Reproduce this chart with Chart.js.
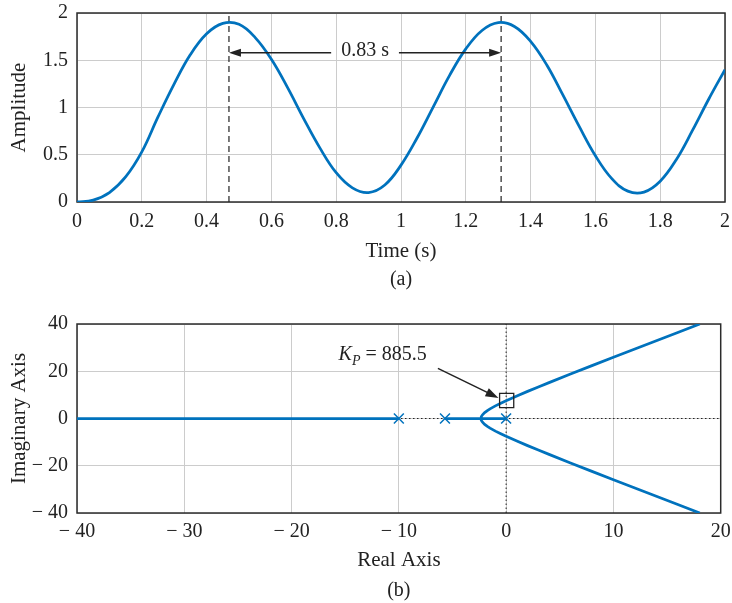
<!DOCTYPE html>
<html><head><meta charset="utf-8">
<script src="https://cdn.jsdelivr.net/npm/chart.js@4"></script>
<style>html,body{margin:0;padding:0;background:#fff;} canvas{position:absolute;left:0;display:block}</style>
</head><body>
<canvas id="c1" width="732" height="300" style="top:0"></canvas>
<canvas id="c2" width="732" height="303" style="top:300px"></canvas>
<script>
// ---------- (a) time response ----------
const timeS = [0,0.05,0.1,0.15,0.2,0.25,0.3,0.35,0.4,0.45,0.5,0.55,0.6,0.65,0.7,0.75,0.8,0.85,0.9,0.95,1.0,1.05,1.1,1.15,1.2,1.25,1.3,1.35,1.4,1.45,1.5,1.55,1.6,1.65,1.7,1.75,1.8,1.85,1.9,1.95,2.0];
const amplitude = [0,0.02,0.10,0.265,0.53,0.90,1.25,1.56,1.78,1.89,1.88,1.74,1.51,1.21,0.88,0.57,0.31,0.15,0.10,0.18,0.39,0.68,1.01,1.34,1.62,1.815,1.898,1.857,1.70,1.45,1.13,0.80,0.49,0.25,0.115,0.105,0.22,0.45,0.76,1.09,1.40];
const peakTimes = [0.469, 1.309];
const periodLabel = '0.83 s';
const periodArrowLevel = 1.58;
const timeTicks = [0,0.2,0.4,0.6,0.8,1,1.2,1.4,1.6,1.8,2];
const timeTickLabels = ['0','0.2','0.4','0.6','0.8','1','1.2','1.4','1.6','1.8','2'];
const ampTicks = [0,0.5,1,1.5,2];
const ampTickLabels = ['0','0.5','1','1.5','2'];

// ---------- (b) root locus ----------
const realAxisLeftSeg = [-40,-10];
const realAxisRightSeg = [-5.7,0];
const branchReal = [-2.34,-2.33,-2.3,-2.2,-2,-1.75,-1.5,-1,-0.5,0,1,2,3,4,6,8,10,12,14,16,18.05];
const branchUpperImag = [0,0.35,0.81,1.56,2.49,3.35,4.08,5.35,6.48,7.55,9.56,11.48,13.35,15.19,18.80,22.37,25.90,29.42,32.93,36.43,40];
const branchLowerImag = [0,-0.35,-0.81,-1.56,-2.49,-3.35,-4.08,-5.35,-6.48,-7.55,-9.56,-11.48,-13.35,-15.19,-18.80,-22.37,-25.90,-29.42,-32.93,-36.43,-40];
const polesReal = [0,-5.7,-10];
const polesImag = [0,0,0];
const kpPoint = {re:0.05, im:7.6};
const kpLabelMain = 'K';
const kpLabelSub = 'P';
const kpLabelValue = ' = 885.5';
const kpTextAnchor = {re:-15.62, im:24.7};
const kpArrowFrom = {re:-6.36, im:21.2};
const kpArrowTo = {re:-0.71, im:8.72};
const realTicks = [-40,-30,-20,-10,0,10,20];
const realTickLabels = ['\u2212 40','\u2212 30','\u2212 20','\u2212 10','0','10','20'];
const imagTicks = [-40,-20,0,20,40];
const imagTickLabels = ['\u2212 40','\u2212 20','0','20','40'];

const FONT = '"Liberation Serif", "Times New Roman", serif';
const BLUE = '#0072bd';
const INK = '#222222';
Chart.defaults.font.family = FONT;
Chart.defaults.color = INK;

function scaleCfg(min,max,ticks,labels,title,titlePad,tickPad,isY,size){
  return {
    type:'linear', min:min, max:max,
    afterBuildTicks: s => { s.ticks = ticks.map(v => ({value:v})); },
    ticks:{autoSkip:false, maxRotation:0, minRotation:0, padding:tickPad, font:{size:20}, color:INK,
      callback:(v,i) => labels[i]},
    grid:{color:'#cccccc', lineWidth:1, drawTicks:false},
    border:{display:false},
    title:{display:true, text:title, font:{size:21}, color:INK, padding:titlePad},
    afterFit: s => { if(isY) s.width = size; else s.height = size;
      s.paddingLeft = 0; s.paddingRight = 0; s.paddingTop = 0; s.paddingBottom = 0; }
  };
}

const framePlugin = {
  id:'frame',
  beforeDatasetsDraw(chart){
    const {ctx, chartArea:a} = chart;
    ctx.save();
    ctx.strokeStyle = '#2b2b2b'; ctx.lineWidth = 1.5;
    ctx.strokeRect(a.left, a.top, a.right - a.left, a.bottom - a.top);
    ctx.restore();
  }
};

function arrowHead(ctx, tx, ty, fx, fy, len, half){
  const ang = Math.atan2(ty - fy, tx - fx);
  ctx.beginPath();
  ctx.moveTo(tx, ty);
  ctx.lineTo(tx - len*Math.cos(ang) + half*Math.sin(ang), ty - len*Math.sin(ang) - half*Math.cos(ang));
  ctx.lineTo(tx - len*Math.cos(ang) - half*Math.sin(ang), ty - len*Math.sin(ang) + half*Math.cos(ang));
  ctx.closePath();
  ctx.fill();
}

const periodPlugin = {
  id:'period',
  afterDatasetsDraw(chart){
    const {ctx, scales:{x, y}} = chart;
    const x1 = x.getPixelForValue(peakTimes[0]);
    const x2 = x.getPixelForValue(peakTimes[1]);
    const xm = x.getPixelForValue((peakTimes[0] + peakTimes[1]) / 2);
    const yy = y.getPixelForValue(periodArrowLevel);
    ctx.save();
    ctx.font = '20px ' + FONT;
    const tw = ctx.measureText(periodLabel).width;
    const gap = tw/2 + 10;
    ctx.strokeStyle = INK; ctx.fillStyle = INK; ctx.lineWidth = 1.5;
    ctx.beginPath();
    ctx.moveTo(x1 + 6, yy); ctx.lineTo(xm - gap, yy);
    ctx.moveTo(xm + gap, yy); ctx.lineTo(x2 - 6, yy);
    ctx.stroke();
    arrowHead(ctx, x1, yy, x1 + 20, yy, 12, 4);
    arrowHead(ctx, x2, yy, x2 - 20, yy, 12, 4);
    ctx.textAlign = 'center'; ctx.textBaseline = 'middle';
    ctx.fillText(periodLabel, xm, yy - 2);
    ctx.restore();
  }
};

const kpPlugin = {
  id:'kp',
  afterDatasetsDraw(chart){
    const {ctx, scales:{x, y}} = chart;
    const fx = x.getPixelForValue(kpArrowFrom.re), fy = y.getPixelForValue(kpArrowFrom.im);
    const tx = x.getPixelForValue(kpArrowTo.re), ty = y.getPixelForValue(kpArrowTo.im);
    ctx.save();
    ctx.strokeStyle = INK; ctx.fillStyle = INK; ctx.lineWidth = 1.5;
    const ang = Math.atan2(ty - fy, tx - fx);
    ctx.beginPath(); ctx.moveTo(fx, fy); ctx.lineTo(tx - 8*Math.cos(ang), ty - 8*Math.sin(ang)); ctx.stroke();
    arrowHead(ctx, tx, ty, fx, fy, 13, 4.5);
    let px = x.getPixelForValue(kpTextAnchor.re), py = y.getPixelForValue(kpTextAnchor.im);
    ctx.textAlign = 'left'; ctx.textBaseline = 'alphabetic';
    ctx.font = 'italic 20px ' + FONT;
    ctx.fillText(kpLabelMain, px, py);
    px += ctx.measureText(kpLabelMain).width;
    ctx.font = 'italic 14px ' + FONT;
    ctx.fillText(kpLabelSub, px, py + 4.5);
    px += ctx.measureText(kpLabelSub).width;
    ctx.font = '20px ' + FONT;
    ctx.fillText(kpLabelValue, px, py);
    ctx.restore();
  }
};

const common = {
  responsive:false, animation:false, events:[], devicePixelRatio:1
};

new Chart(document.getElementById('c1'), {
  type:'scatter',
  data:{datasets:[
    {data: timeS.map((t,i) => ({x:t, y:amplitude[i]})), showLine:true, borderColor:BLUE, borderWidth:2.75,
     pointRadius:0, tension:0.4, order:1},
    {data: [{x:peakTimes[0], y:0},{x:peakTimes[0], y:2}], showLine:true, borderColor:INK, borderWidth:1.2,
     borderDash:[6,4], pointRadius:0, order:2},
    {data: [{x:peakTimes[1], y:0},{x:peakTimes[1], y:2}], showLine:true, borderColor:INK, borderWidth:1.2,
     borderDash:[6,4], pointRadius:0, order:2}
  ]},
  options:Object.assign({}, common, {
    layout:{padding:{left:0, top:13, right:7, bottom:0}},
    scales:{
      x: scaleCfg(0, 2, timeTicks, timeTickLabels, 'Time (s)', {top:0, bottom:4.4}, 8, false, 66),
      y: scaleCfg(0, 2, ampTicks, ampTickLabels, 'Amplitude', {top:6.4, bottom:0}, 9, true, 77)
    },
    plugins:{
      legend:{display:false}, tooltip:{enabled:false},
      title:{display:true, text:'(a)', position:'bottom', fullSize:false, font:{size:20, weight:'normal'},
        color:INK, padding:{top:0, bottom:8}}
    }
  }),
  plugins:[framePlugin, periodPlugin]
});

new Chart(document.getElementById('c2'), {
  type:'scatter',
  data:{datasets:[
    {data: polesReal.map((r,i) => ({x:r, y:polesImag[i]})), showLine:false, pointStyle:'crossRot',
     pointRadius:7, borderColor:BLUE, borderWidth:1.5, order:0},
    {data: [{x:kpPoint.re, y:kpPoint.im}], showLine:false, pointStyle:'rect', pointRadius:10,
     borderColor:INK, backgroundColor:'rgba(0,0,0,0)', borderWidth:1.3, order:0},
    {data: realAxisLeftSeg.map(r => ({x:r, y:0})), showLine:true, borderColor:BLUE, borderWidth:2.75, pointRadius:0, order:1},
    {data: realAxisRightSeg.map(r => ({x:r, y:0})), showLine:true, borderColor:BLUE, borderWidth:2.75, pointRadius:0, order:1},
    {data: branchReal.map((r,i) => ({x:r, y:branchUpperImag[i]})), showLine:true, borderColor:BLUE, borderWidth:2.75, pointRadius:0, order:1},
    {data: branchReal.map((r,i) => ({x:r, y:branchLowerImag[i]})), showLine:true, borderColor:BLUE, borderWidth:2.75, pointRadius:0, order:1},
    {data: [{x:-40, y:0},{x:20, y:0}], showLine:true, borderColor:INK, borderWidth:1, borderDash:[1.5,2.5], pointRadius:0, order:5},
    {data: [{x:0, y:-40},{x:0, y:40}], showLine:true, borderColor:INK, borderWidth:1, borderDash:[1.5,2.5], pointRadius:0, order:5}
  ]},
  options:Object.assign({}, common, {
    layout:{padding:{left:0, top:24, right:7, bottom:0}},
    scales:{
      x: scaleCfg(-40, 20, realTicks, realTickLabels, 'Real Axis', {top:0, bottom:6}, 7, false, 66),
      y: scaleCfg(-40, 40, imagTicks, imagTickLabels, 'Imaginary Axis', {top:6.4, bottom:0}, 9, true, 77)
    },
    plugins:{
      legend:{display:false}, tooltip:{enabled:false},
      title:{display:true, text:'(b)', position:'bottom', fullSize:false, font:{size:20, weight:'normal'},
        color:INK, padding:{top:0, bottom:0}}
    }
  }),
  plugins:[framePlugin, kpPlugin]
});
</script>
</body></html>
